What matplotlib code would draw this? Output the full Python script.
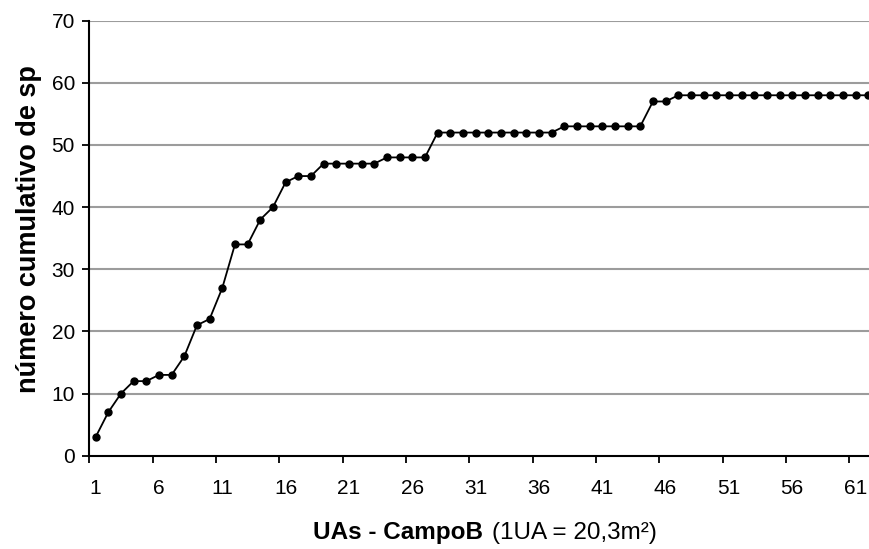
import matplotlib
matplotlib.use("Agg")
import matplotlib.pyplot as plt
import numpy as np

plt.rcParams['font.family'] = ['Liberation Sans', 'DejaVu Sans']

# Data
uas = list(range(1, 63))
cumulative_sp = [3, 7, 10, 12, 12, 13, 13, 16, 21, 22,
                 27, 34, 34, 38, 40, 44, 45, 45, 47, 47,
                 47, 47, 47, 48, 48, 48, 48, 52, 52, 52,
                 52, 52, 52, 52, 52, 52, 52, 53, 53, 53,
                 53, 53, 53, 53, 57, 57, 58, 58, 58, 58,
                 58, 58, 58, 58, 58, 58, 58, 58, 58, 58,
                 58, 58]
x_tick_labels = ['1', '6', '11', '16', '21', '26', '31', '36', '41', '46', '51', '56', '61']
y_ticks = [0, 10, 20, 30, 40, 50, 60, 70]

W, H = 869, 549
fig = plt.figure(figsize=(W / 100, H / 100), dpi=100)
ax = fig.add_axes([89.3 / W, (H - 455.7) / H, (874.6 - 89.3) / W, (455.7 - 20.7) / H])

ax.plot(uas, cumulative_sp, color='black', lw=1.3, marker='o', markersize=5,
        markerfacecolor='black', markeredgecolor='black', clip_on=False, zorder=3)

ax.set_xlim(0.5, 62.5)
ax.set_ylim(0, 70)

# y axis
ax.set_yticks(y_ticks)
ax.set_yticklabels([str(v) for v in y_ticks])
for v in y_ticks[1:]:
    ax.axhline(v, color='#9c9c9c', lw=1.5, zorder=1)

# x axis: ticks at category boundaries, labels at centers
major = [0.5 + 5 * i for i in range(13)]
ax.set_xticks(major)
ax.set_xticklabels([''] * len(major))
label_pos = [int(s) for s in x_tick_labels]
ax.set_xticks(label_pos, minor=True)
ax.set_xticklabels(x_tick_labels, minor=True)

ax.tick_params(axis='x', which='major', direction='out', length=5, width=1.3, color='black')
ax.tick_params(axis='x', which='minor', length=0, pad=16.8, labelsize=15)
ax.tick_params(axis='y', which='major', direction='out', length=4.8, width=1.3, pad=5.5, labelsize=15)

for s in ['top', 'right']:
    ax.spines[s].set_visible(False)
for s in ['left', 'bottom']:
    ax.spines[s].set_linewidth(1.5)
    ax.spines[s].set_color('black')
    ax.spines[s].set_zorder(4)

# labels
fig.text(29 / W, (H - 229.5) / H, 'número cumulativo de sp', rotation=90,
         ha='center', va='center', fontsize=19.5, fontweight='bold')
fig.text(483 / W, (H - 539) / H, 'UAs - CampoB', ha='right', va='baseline',
         fontsize=17.5, fontweight='bold')
fig.text(492 / W, (H - 539) / H, '(1UA = 20,3m²)', ha='left', va='baseline',
         fontsize=17.5)

fig.savefig('out.png', dpi=100)
